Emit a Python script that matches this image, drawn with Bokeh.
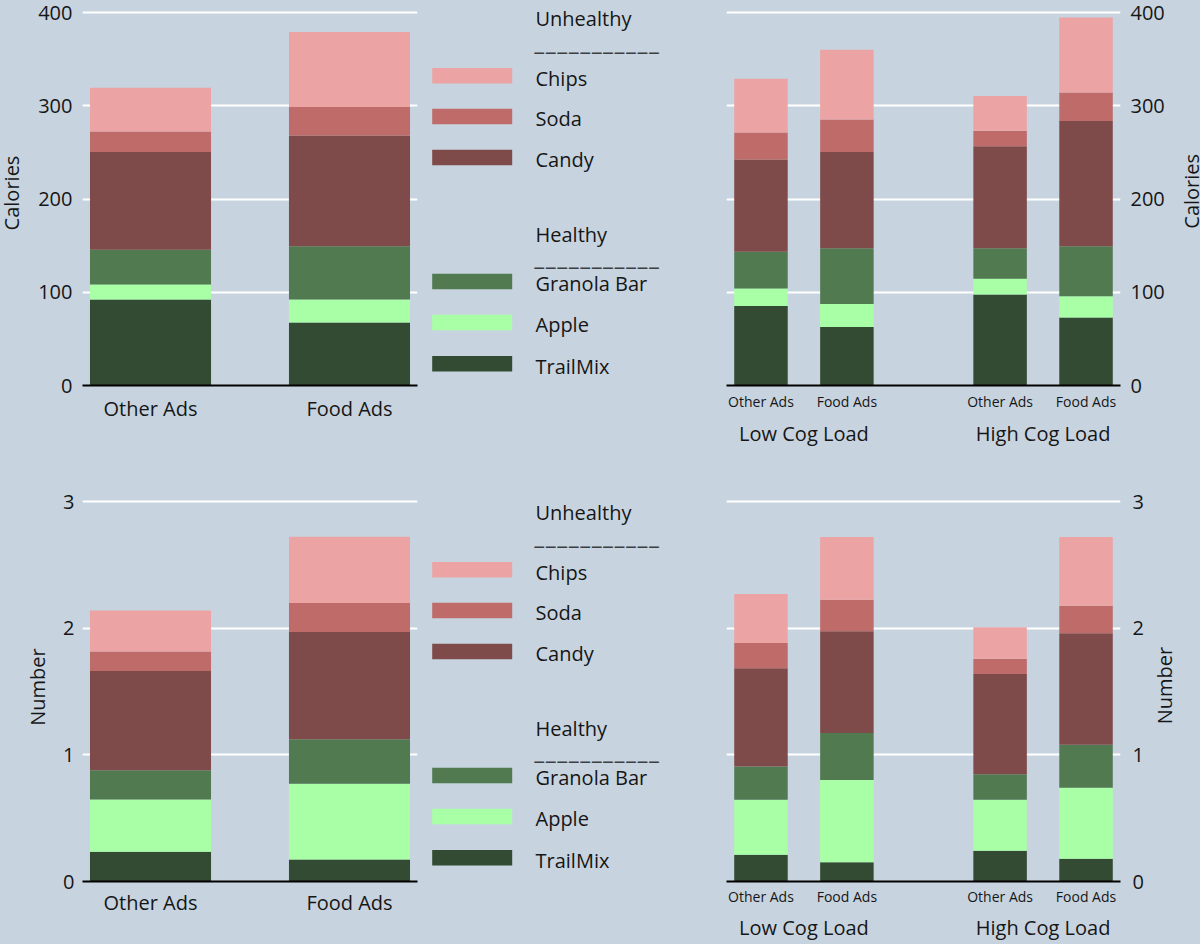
import math
from bokeh.plotting import figure
from bokeh.models import FactorRange, Range1d, FixedTicker, ColumnDataSource
from bokeh.layouts import row, column
from bokeh.embed import file_html
from bokeh.resources import INLINE
from bokeh.core.properties import value

# ---------------- data ----------------
ads = ["Other Ads", "Food Ads"]
loads = ["Low Cog Load", "High Cog Load"]
snacks = ["TrailMix", "Apple", "Granola Bar", "Candy", "Soda", "Chips"]  # stack order bottom -> top
snack_colors = ["#334b33", "#a8ffa5", "#517a51", "#7f4a4a", "#be6b69", "#eca3a3"]
unhealthy = ["Chips", "Soda", "Candy"]
healthy = ["Granola Bar", "Apple", "TrailMix"]
y_titles = ["Calories", "Number"]

# Calories, by ad type (Other Ads, Food Ads)
cal_trailmix = [92.3, 67.5]
cal_apple = [16.1, 24.8]
cal_granola = [37.2, 57.0]
cal_candy = [104.9, 118.9]
cal_soda = [21.9, 30.4]
cal_chips = [46.9, 80.5]

# Calories, by load x ad type (Low/Other, Low/Food, High/Other, High/Food)
calL_trailmix = [85.3, 62.7, 97.6, 72.9]
calL_apple = [18.6, 24.7, 16.9, 22.9]
calL_granola = [39.5, 59.9, 32.8, 53.6]
calL_candy = [99.0, 103.2, 109.2, 134.3]
calL_soda = [28.9, 34.9, 16.6, 30.6]
calL_chips = [57.8, 74.7, 37.3, 80.3]

# Number of items, by ad type
num_trailmix = [0.234, 0.173]
num_apple = [0.414, 0.599]
num_granola = [0.231, 0.351]
num_candy = [0.782, 0.846]
num_soda = [0.155, 0.230]
num_chips = [0.323, 0.523]

# Number of items, by load x ad type
numL_trailmix = [0.212, 0.151, 0.243, 0.180]
numL_apple = [0.434, 0.651, 0.403, 0.561]
numL_granola = [0.261, 0.370, 0.201, 0.338]
numL_candy = [0.776, 0.804, 0.791, 0.881]
numL_soda = [0.201, 0.249, 0.121, 0.217]
numL_chips = [0.386, 0.495, 0.249, 0.543]

cal_ticks = [0, 100, 200, 300, 400]
num_ticks = [0, 1, 2, 3]

# ---------------- style ----------------
FONT = "Open Sans"
DASH_FONT = "Lato"
BG = "#c7d4e0"
INK = "#161616"
DASH_INK = "#3a3f46"

TOP_H, TOP_FRAME = 470, 385
BOT_H, BOT_FRAME = 474, 411


def blank_fig(width, height, frame_h):
    p = figure(x_range=Range1d(0, width), y_range=Range1d(frame_h, 0),
               width=width, height=height, min_border_left=0, min_border_right=0,
               min_border_top=0, min_border_bottom=height - frame_h,
               output_backend="svg", toolbar_location=None)
    p.background_fill_color = BG
    p.border_fill_color = BG
    p.outline_line_color = None
    p.axis.visible = False
    p.grid.grid_line_color = None
    return p


def title_strip(text, width, height, frame_h, x, y):
    # vertical axis title, in its own narrow strip beside the panel
    p = blank_fig(width, height, frame_h)
    src = ColumnDataSource(dict(x=[x], y=[y], t=[text]))
    p.text(x="x", y="y", text="t", source=src, angle=math.pi / 2,
           text_font=value(FONT), text_font_size="20px", text_color=INK,
           text_align="center", text_baseline="middle")
    return p


def base_style(p):
    p.background_fill_color = BG
    p.border_fill_color = BG
    p.outline_line_color = None
    p.xgrid.grid_line_color = None
    p.ygrid.grid_line_color = "white"
    p.ygrid.grid_line_width = 2
    for ax in p.xaxis:
        ax.axis_line_color = "black"
        ax.axis_line_width = 2
        ax.major_tick_line_color = None
        ax.minor_tick_line_color = None
        ax.major_tick_out = 0
        ax.major_tick_in = 0
        ax.minor_tick_out = 0
        ax.minor_tick_in = 0
        ax.major_label_text_font = FONT
        ax.major_label_text_color = INK
    for ax in p.yaxis:
        ax.axis_line_color = None
        ax.major_tick_line_color = None
        ax.minor_tick_line_color = None
        ax.major_tick_out = 0
        ax.major_tick_in = 0
        ax.minor_tick_out = 0
        ax.minor_tick_in = 0
        ax.major_label_text_font = FONT
        ax.major_label_text_color = INK
        ax.major_label_text_font_size = "20px"


def ad_panel(vals, ticks, ytop, width, left, height, frame_h, xstand, tstand):
    data = dict(x=ads)
    for s, v in zip(snacks, vals):
        data[s] = v
    src = ColumnDataSource(data)
    p = figure(x_range=FactorRange(*ads, factor_padding=0.463, range_padding=0),
               y_range=Range1d(0, ytop),
               width=width, height=height,
               min_border_left=left, min_border_right=3, min_border_top=0,
               min_border_bottom=height - frame_h,
               output_backend="svg", toolbar_location=None)
    p.vbar_stack(snacks, x="x", width=0.89, source=src,
                 fill_color=snack_colors, line_color=None)
    base_style(p)
    p.yaxis.ticker = FixedTicker(ticks=ticks)
    p.ygrid.ticker = FixedTicker(ticks=ticks)
    p.yaxis.major_label_standoff = tstand
    p.xaxis.major_label_text_font_size = "20px"
    p.xaxis.major_label_standoff = xstand
    return p


def load_panel(vals, ticks, ytop, width, right, height, frame_h, xstand, tstand):
    factors = [(l, a) for l in loads for a in ads]
    data = dict(x=factors)
    for s, v in zip(snacks, vals):
        data[s] = v
    src = ColumnDataSource(data)
    p = figure(x_range=FactorRange(*factors, factor_padding=0.2464,
                                   group_padding=1.222, range_padding=0),
               y_range=Range1d(0, ytop),
               width=width, height=height,
               min_border_left=26, min_border_right=right, min_border_top=0,
               min_border_bottom=height - frame_h, y_axis_location="right",
               output_backend="svg", toolbar_location=None)
    p.vbar_stack(snacks, x="x", width=0.776, source=src,
                 fill_color=snack_colors, line_color=None)
    base_style(p)
    p.yaxis.ticker = FixedTicker(ticks=ticks)
    p.ygrid.ticker = FixedTicker(ticks=ticks)
    p.yaxis.major_label_standoff = tstand
    ax = p.xaxis[0]
    ax.major_label_text_font_size = "14px"
    ax.major_label_standoff = xstand
    ax.group_text_font = FONT
    ax.group_text_font_size = "20px"
    ax.group_text_font_style = "normal"
    ax.group_text_color = INK
    ax.separator_line_color = None
    return p


def legend_panel(height, frame_h, dy):
    p = blank_fig(280, height, frame_h)
    color_of = dict(zip(snacks, snack_colors))
    names = unhealthy + healthy
    # legend row slots (text baselines, px from panel top)
    base_y = [86.0, 126.7, 167.7, 291.7, 332.7, 374.0]
    shift = -8.5  # baseline correction of the text glyph
    src = ColumnDataSource(dict(
        name=names, color=[color_of[n] for n in names],
        ty=[y + dy + shift for y in base_y],
        top=[y + dy - 18.4 for y in base_y], bottom=[y + dy - 2.9 for y in base_y],
        left=[11.7] * 6, right=[91.7] * 6, tx=[115] * 6))
    p.quad(left="left", right="right", top="top", bottom="bottom",
           fill_color="color", line_color=None, source=src)
    p.text(x="tx", y="ty", text="name", source=src,
           text_font=value(FONT), text_font_size="20px", text_color=INK,
           text_baseline="alphabetic", text_align="left")
    heads = ColumnDataSource(dict(
        text=["Unhealthy", "Healthy"],
        x=[115, 115], y=[26.7 + dy + shift, 242.3 + dy + shift]))
    p.text(x="x", y="y", text="text", source=heads,
           text_font=value(FONT), text_font_size="20px", text_color=INK,
           text_baseline="alphabetic", text_align="left")
    dashes = ColumnDataSource(dict(
        text=["___________", "___________"],
        x=[113, 113], y=[39.7 + dy, 254.7 + dy]))
    p.text(x="x", y="y", text="text", source=dashes,
           text_font=value(DASH_FONT), text_font_size="25px", text_color=DASH_INK,
           text_baseline="alphabetic", text_align="left")
    return p


cal_vals = [cal_trailmix, cal_apple, cal_granola, cal_candy, cal_soda, cal_chips]
calL_vals = [calL_trailmix, calL_apple, calL_granola, calL_candy, calL_soda, calL_chips]
num_vals = [num_trailmix, num_apple, num_granola, num_candy, num_soda, num_chips]
numL_vals = [numL_trailmix, numL_apple, numL_granola, numL_candy, numL_soda, numL_chips]

cal_top = 412.9
num_top = 3.245

# top row: [title 22][TL 398][legend 280][TR 476][title 24]
t_l = title_strip(y_titles[0], 22, TOP_H, TOP_FRAME, 10.8, 192.5)
p_tl = ad_panel(cal_vals, cal_ticks, cal_top, 398, 60, TOP_H, TOP_FRAME, 9, 10)
leg_t = legend_panel(TOP_H, TOP_FRAME, 0)
p_tr = load_panel(calL_vals, cal_ticks, cal_top, 476, 56, TOP_H, TOP_FRAME, 6, 10)
t_r = title_strip(y_titles[0], 24, TOP_H, TOP_FRAME, 14.7, 190.8)

# bottom row: [title 52][BL 368][legend 280][BR 448][title 52]
b_l = title_strip(y_titles[1], 52, BOT_H, BOT_FRAME, 37.0, 216.5)
p_bl = ad_panel(num_vals, num_ticks, num_top, 368, 30, BOT_H, BOT_FRAME, 7, 8)
leg_b = legend_panel(BOT_H, BOT_FRAME, 24)
p_br = load_panel(numL_vals, num_ticks, num_top, 448, 28, BOT_H, BOT_FRAME, 5, 12)
b_r = title_strip(y_titles[1], 52, BOT_H, BOT_FRAME, 15.5, 215.0)

layout = column(row(t_l, p_tl, leg_t, p_tr, t_r, spacing=0),
                row(b_l, p_bl, leg_b, p_br, b_r, spacing=0), spacing=0,
                styles={"background-color": BG})

open("out.html", "w").write(file_html(layout, INLINE))
